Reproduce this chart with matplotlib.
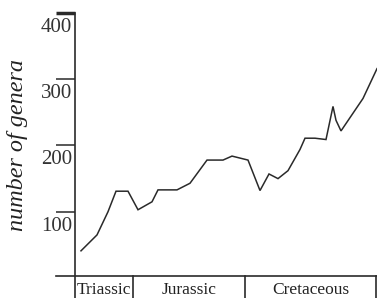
import matplotlib
matplotlib.use("Agg")
import matplotlib.pyplot as plt
from matplotlib.transforms import ScaledTranslation

# data (x: relative position along the time axis, y: number of genera)
x_pos = [6, 22, 33, 41, 53, 63, 77, 83, 102, 115, 132, 148, 157, 165, 173,
         185, 194, 203, 213, 225, 230, 240, 251, 258, 261, 266, 288, 302]
genera = [41, 65, 100, 131, 131, 103, 115, 133, 133, 143, 178, 178, 184, 181, 178,
          132, 157, 150, 162, 194, 211, 211, 209, 259, 238, 222, 271, 316]
yticks = [100, 200, 300, 400]
periods = ["Triassic", "Jurassic", "Cretaceous"]
period_bounds = [0, 58, 170, 302]

W, H = 377, 298
fig = plt.figure(figsize=(W / 100, H / 100), dpi=100)
ax = fig.add_axes([75 / W, (H - 276) / H, (377 - 75) / W, (276 - 13) / H])
col = "#2a2a2a"
serif = "Liberation Serif"

ax.plot(x_pos, genera, color=col, lw=1.1, solid_joinstyle="miter")
ax.set_xlim(0, 302)
ax.set_ylim(3, 400)
for s in ax.spines.values():
    s.set_visible(False)
ax.set_xticks([])
ax.set_yticks(yticks)
ax.set_yticklabels([])
ax.tick_params(axis="y", direction="out", length=13.7, width=1.1, color=col, left=True)
ax.yaxis.get_major_ticks()[-1].tick1line.set_markeredgewidth(2.5)

# axis lines
ax.plot([0, 0], [1, -0.1], transform=ax.transAxes, color=col, lw=1.2, clip_on=False)
ax.plot([-19 / 302, 1], [0, 0], transform=ax.transAxes, color=col, lw=1.2, clip_on=False)
xt = ax.get_xaxis_transform()
for b in period_bounds[1:]:
    bx = min(b, 301.3)
    ax.plot([bx, bx], [0, -0.1], transform=xt, color=col, lw=1.2, clip_on=False)
for i, p in enumerate(periods):
    cx = (period_bounds[i] + period_bounds[i + 1]) / 2
    ax.text(cx, -0.053, p, transform=xt, ha="center", va="center",
            fontsize=12.5, family=serif, color="#222222")

# y tick labels below ticks
yt = ax.get_yaxis_transform() + ScaledTranslation(0, -5 / 100, fig.dpi_scale_trans)
for v in yticks:
    ax.text(-3 / 302, v, str(v), transform=yt, ha="right", va="top",
            fontsize=15, family=serif, color="#333333")

fig.text(18 / W, 1 - 145 / H, "number of genera", rotation=90, ha="center", va="center",
         fontsize=17.4, family=serif, style="italic", color="#222222")

fig.savefig("out.png", dpi=100)
